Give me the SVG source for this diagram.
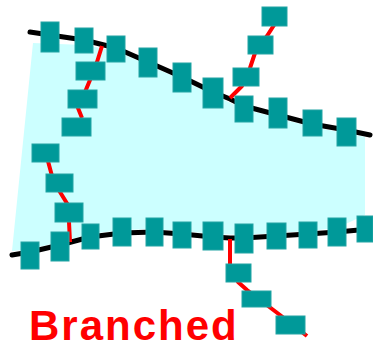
<svg xmlns="http://www.w3.org/2000/svg" width="373" height="350" viewBox="0 0 373 350">
<style>
.area{fill:#ccffff;stroke:none}
.main{fill:none;stroke:#000;stroke-width:5;stroke-linejoin:round;stroke-linecap:round}
.br{fill:none;stroke:#ff0000;stroke-width:4;stroke-linejoin:round}
.v{fill:#009999;stroke:#22a4a4;stroke-width:1}
.lbl{font-family:"Liberation Sans",Arial,sans-serif;font-weight:bold;font-size:42px;fill:#ff0000;letter-spacing:2px}
</style>
<rect width="373" height="350" fill="#fff"/>
<polygon class="area" points="33,43 84,45 116,51 148,65 182,80 213,95 244,109 278,118 312,127 346,133 365,137 365,215 337,228 308,231 276,233 244,235 213,234 182,231 154,229 122,230 90,234 60,242 30,249 12,251"/>
<g id="connectors">
<polyline class="main" points="30,32 50,35 84,40 116,48 148,62 182,77 213,92 230,99 244,106 278,115 312,124 346,130 370,135"/>
<polyline class="main" points="12,255 30,252 60,245 90,237 122,233 154,232 182,234 213,237 230,238 244,238 276,236 308,234 337,232 370,229"/>
<polyline class="br" points="102,46 97,62 90,80 85,92 78,108 82,118"/>
<polyline class="br" points="45,150 52,176 60,192 68,205 69,222 70,242"/>
<polyline class="br" points="230,98 242,86 250,68 255,53 267,36 276,22"/>
<polyline class="br" points="230,239 230,265 238,282 247,290 280,315 307,336"/>
</g>
<g id="top-line">
<rect class="v" x="41" y="22" width="18" height="30"/>
<rect class="v" x="75" y="28" width="18" height="25"/>
<rect class="v" x="107" y="36" width="18" height="26"/>
<rect class="v" x="139" y="48" width="18" height="29"/>
<rect class="v" x="173" y="63" width="18" height="29"/>
<rect class="v" x="203" y="78" width="20" height="30"/>
<rect class="v" x="235" y="96" width="18" height="26"/>
<rect class="v" x="269" y="98" width="18" height="30"/>
<rect class="v" x="303" y="110" width="19" height="26"/>
<rect class="v" x="337" y="118" width="19" height="28"/>
</g>
<g id="bottom-line">
<rect class="v" x="21" y="242" width="18" height="27"/>
<rect class="v" x="51" y="232" width="18" height="29"/>
<rect class="v" x="82" y="224" width="17" height="25"/>
<rect class="v" x="113" y="218" width="18" height="28"/>
<rect class="v" x="146" y="218" width="17" height="28"/>
<rect class="v" x="173" y="222" width="18" height="26"/>
<rect class="v" x="203" y="222" width="20" height="28"/>
<rect class="v" x="235" y="224" width="18" height="29"/>
<rect class="v" x="267" y="223" width="19" height="26"/>
<rect class="v" x="299" y="222" width="18" height="26"/>
<rect class="v" x="328" y="218" width="18" height="28"/>
<rect class="v" x="357" y="216" width="16" height="26"/>
</g>
<g id="branch-a">
<rect class="v" x="76" y="62" width="29" height="18"/>
<rect class="v" x="68" y="90" width="29" height="18"/>
<rect class="v" x="62" y="118" width="29" height="18"/>
</g>
<g id="branch-b">
<rect class="v" x="32" y="144" width="27" height="18"/>
<rect class="v" x="46" y="174" width="27" height="18"/>
<rect class="v" x="55" y="203" width="28" height="19"/>
</g>
<g id="branch-c">
<rect class="v" x="262" y="7" width="25" height="19"/>
<rect class="v" x="248" y="36" width="25" height="18"/>
<rect class="v" x="233" y="68" width="26" height="18"/>
</g>
<g id="branch-d">
<rect class="v" x="226" y="264" width="25" height="18"/>
<rect class="v" x="242" y="291" width="29" height="16"/>
<rect class="v" x="276" y="316" width="29" height="18"/>
</g>
<text class="lbl" x="29" y="340">Branched</text>
</svg>
